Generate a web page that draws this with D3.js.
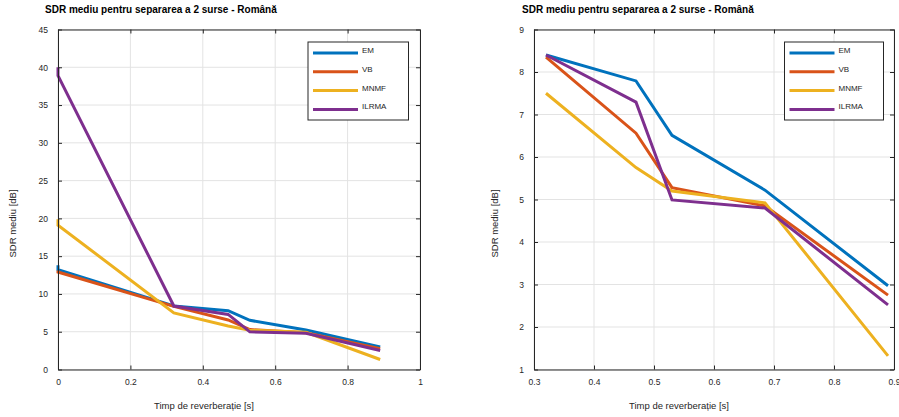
<!DOCTYPE html>
<html>
<head>
<meta charset="utf-8">
<script src="https://cdn.jsdelivr.net/npm/d3@7"></script>
<style>
  body { margin: 0; background: #fff; }
  svg { font-family: "Liberation Sans", Arial, sans-serif; }
</style>
</head>
<body>
<svg id="chart" width="899" height="417"></svg>
<script>
// reverberation times (s); left panel adds the anechoic start at 0
const times = [0.32, 0.47, 0.53, 0.685, 0.89];
const startTimes = [0, 0];

const methods = ["EM", "VB", "MNMF", "ILRMA"];
const colors = ["#0072BD", "#D95319", "#EDB120", "#7E2F8E"];

// SDR values [dB] for the reverberant conditions
const sdrEM = [8.4, 7.79, 6.51, 5.22, 2.97];
const sdrVB = [8.35, 6.56, 5.28, 4.85, 2.75];
const sdrMNMF = [7.5, 5.75, 5.2, 4.92, 1.32];
const sdrILRMA = [8.4, 7.29, 4.99, 4.8, 2.52];

// anechoic start values (left panel only)
const startEM = [13.8, 13.2];
const startVB = [13.1, 12.9];
const startMNMF = [19.9, 19.1];
const startILRMA = [40.0, 38.9];

const title = "SDR mediu pentru separarea a 2 surse - Română";
const xLabel = "Timp de reverberație [s]";
const yLabel = "SDR mediu [dB]";

const leftXTicks = [0, 0.2, 0.4, 0.6, 0.8, 1];
const leftYTicks = [0, 5, 10, 15, 20, 25, 30, 35, 40, 45];
const rightXTicks = [0.3, 0.4, 0.5, 0.6, 0.7, 0.8, 0.9];
const rightYTicks = [1, 2, 3, 4, 5, 6, 7, 8, 9];

const svg = d3.select("#chart");

function buildSeries(withStart) {
    const vals = [sdrEM, sdrVB, sdrMNMF, sdrILRMA];
    const starts = [startEM, startVB, startMNMF, startILRMA];
    return methods.map((m, i) => {
        const xs = withStart ? startTimes.concat(times) : times;
        const ys = withStart ? starts[i].concat(vals[i]) : vals[i];
        return { name: m, color: colors[i], points: xs.map((x, j) => [x, ys[j]]) };
    });
}

function drawPanel(opt) {
    const { left, right, top, bottom } = opt.box;
    const g = svg.append("g");

    const x = d3.scaleLinear().domain(opt.xDomain).range([left, right]);
    const y = d3.scaleLinear().domain(opt.yDomain).range([bottom, top]);

    // grid
    g.append("g").selectAll("line.gx")
        .data(opt.xTicks)
        .join("line")
        .attr("x1", d => x(d)).attr("x2", d => x(d))
        .attr("y1", top).attr("y2", bottom)
        .attr("stroke", "#e3e3e3").attr("stroke-width", 1);
    g.append("g").selectAll("line.gy")
        .data(opt.yTicks)
        .join("line")
        .attr("x1", left).attr("x2", right)
        .attr("y1", d => y(d)).attr("y2", d => y(d))
        .attr("stroke", "#e3e3e3").attr("stroke-width", 1);

    // series (clip a little outside the box so lines on the edge stay whole)
    const clipId = "clip" + opt.id;
    svg.append("clipPath").attr("id", clipId)
        .append("rect")
        .attr("x", left - 2).attr("y", top - 2)
        .attr("width", right - left + 4).attr("height", bottom - top + 4);

    const line = d3.line().x(d => x(d[0])).y(d => y(d[1]));
    g.append("g").attr("clip-path", `url(#${clipId})`)
        .selectAll("path")
        .data(opt.series)
        .join("path")
        .attr("d", d => line(d.points))
        .attr("fill", "none")
        .attr("stroke", d => d.color)
        .attr("stroke-width", 3)
        .attr("stroke-linejoin", "miter");

    // axes (box with inward ticks, like MATLAB)
    const tickLen = 4;
    const axisColor = "#262626";
    const axB = d3.axisBottom(x).tickValues(opt.xTicks).tickSizeInner(-tickLen).tickSizeOuter(0)
        .tickPadding(9).tickFormat(d3.format("~g"));
    const axT = d3.axisTop(x).tickValues(opt.xTicks).tickSizeInner(-tickLen).tickSizeOuter(0).tickFormat("");
    const axL = d3.axisLeft(y).tickValues(opt.yTicks).tickSizeInner(-tickLen).tickSizeOuter(0)
        .tickPadding(10).tickFormat(d3.format("~g"));
    const axR = d3.axisRight(y).tickValues(opt.yTicks).tickSizeInner(-tickLen).tickSizeOuter(0).tickFormat("");

    [[axB, `translate(0,${bottom})`], [axT, `translate(0,${top})`],
     [axL, `translate(${left},0)`], [axR, `translate(${right},0)`]].forEach(([ax, tr]) => {
        const a = g.append("g").attr("transform", tr).call(ax);
        a.select(".domain").attr("stroke", axisColor).attr("stroke-width", 1);
        a.selectAll(".tick line").attr("stroke", axisColor);
        a.selectAll(".tick text").attr("fill", axisColor).style("font-size", "8.5px");
    });

    // title and labels
    g.append("text")
        .attr("x", opt.titleX).attr("y", 13)
        .style("font-size", "10px").style("font-weight", "bold")
        .attr("fill", "#000")
        .text(title);

    g.append("text")
        .attr("x", (left + right) / 2 - 35).attr("y", 409)
        .attr("text-anchor", "middle")
        .style("font-size", "9.5px").attr("fill", axisColor)
        .text(xLabel);

    g.append("text")
        .attr("transform", `translate(${left - opt.yLabelOffset},${(top + bottom) / 2 + 24}) rotate(-90)`)
        .attr("text-anchor", "middle")
        .style("font-size", "9.5px").attr("fill", axisColor)
        .text(yLabel);

    // legend
    const lg = g.append("g").attr("transform", `translate(${opt.legendX},42)`);
    lg.append("rect")
        .attr("width", opt.legendW).attr("height", 78)
        .attr("fill", "#fff").attr("stroke", axisColor).attr("stroke-width", 1);
    const entry = lg.selectAll("g.entry")
        .data(opt.series)
        .join("g")
        .attr("class", "entry")
        .attr("transform", (d, i) => `translate(0,${11 + i * 18.8})`);
    entry.append("line")
        .attr("x1", 5).attr("x2", 50)
        .attr("stroke", d => d.color).attr("stroke-width", 3);
    entry.append("text")
        .attr("x", 54).attr("y", 0)
        .style("font-size", "8px").attr("fill", axisColor)
        .text(d => d.name);
}

drawPanel({
    id: "L",
    box: { left: 58, right: 420, top: 29.5, bottom: 369.5 },
    xDomain: [0, 1], yDomain: [0, 45],
    xTicks: leftXTicks, yTicks: leftYTicks,
    series: buildSeries(true),
    titleX: 45, legendX: 308, legendW: 100.5, yLabelOffset: 42
});

drawPanel({
    id: "R",
    box: { left: 534, right: 894, top: 29.5, bottom: 369.5 },
    xDomain: [0.3, 0.9], yDomain: [1, 9],
    xTicks: rightXTicks, yTicks: rightYTicks,
    series: buildSeries(false),
    titleX: 522, legendX: 784.5, legendW: 99, yLabelOffset: 36
});
</script>
</body>
</html>
